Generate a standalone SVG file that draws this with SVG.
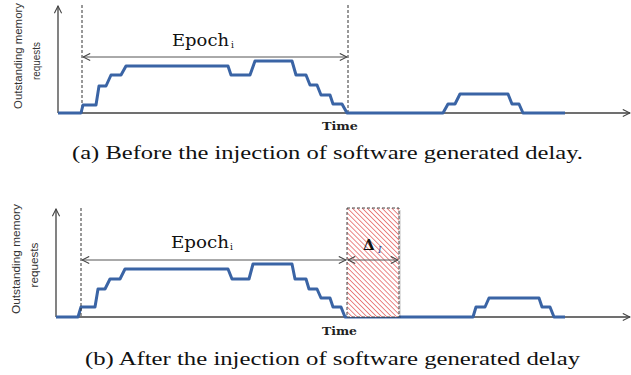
<svg xmlns="http://www.w3.org/2000/svg" width="631" height="375" viewBox="0 0 631 375">
<style>
.axis{stroke:#404040;stroke-width:1.3;fill:none}
.dash{stroke:#333;stroke-width:1;stroke-dasharray:3,2;fill:none}
.span{stroke:#555;stroke-width:1;fill:none}
.curve{stroke:#3a64a5;stroke-width:3;fill:none;stroke-linejoin:round}
.ylab{font-family:"Liberation Sans",Arial,sans-serif;font-size:11px;fill:#333}
.time{font-family:"DejaVu Serif",serif;font-weight:bold;font-size:11px;fill:#222}
.epoch{font-family:"DejaVu Serif",serif;font-size:16px;fill:#111}
.sub{font-family:"DejaVu Serif",serif;font-size:9px;fill:#111}
.cap{font-family:"Liberation Serif","Times New Roman",serif;font-size:18.5px;fill:#111}
</style>
<defs>
<marker id="chev" viewBox="0 0 10 10" refX="9" refY="5" markerWidth="9" markerHeight="9" markerUnits="userSpaceOnUse" orient="auto-start-reverse">
<path d="M1,1 L9,5 L1,9" fill="none" stroke="#444" stroke-width="1.2"/>
</marker>
<pattern id="hatch" patternUnits="userSpaceOnUse" width="3.5" height="3.5" patternTransform="rotate(-45)">
<rect width="3.5" height="3.5" fill="#fff"/>
<line x1="0" y1="0" x2="0" y2="3.5" stroke="#e04848" stroke-width="1.3"/>
</pattern>
</defs>

<g id="panel-a">
<g id="axes-a">
<line class="axis" x1="58" y1="113" x2="58" y2="6" marker-end="url(#chev)"/>
<line class="axis" x1="58" y1="113" x2="630" y2="113" marker-end="url(#chev)"/>
</g>
<g id="ylabel-a">
<text class="ylab" transform="translate(22,56) rotate(-90)" text-anchor="middle" textLength="106" lengthAdjust="spacingAndGlyphs">Outstanding  memory</text>
<text class="ylab" transform="translate(40,61) rotate(-90)" text-anchor="middle" textLength="38" lengthAdjust="spacingAndGlyphs">requests</text>
</g>
<g id="connectors-a">
<line class="dash" x1="82" y1="5" x2="82" y2="113"/>
<line class="dash" x1="348" y1="5" x2="348" y2="113"/>
<line class="span" x1="83" y1="57" x2="347" y2="57" marker-start="url(#chev)" marker-end="url(#chev)"/>
</g>
<g id="epoch-a">
<text class="epoch" x="172" y="46" textLength="57" lengthAdjust="spacingAndGlyphs">Epoch</text>
<text class="sub" x="231" y="48">i</text>
</g>
<path id="curve-a" class="curve" d="M58,113 L81,113 L83,105 L96,105 L99,86 L106,86 L111,75 L121,75 L126,66 L228,66 L231,75 L250,75 L255,61 L292,61 L296,75 L306,75 L310,85 L317,85 L321,95 L330,95 L333,104 L342,104 L347,113 L443,113 L448,104 L455,104 L460,94 L508,94 L512,104 L519,104 L523,113 L565,113"/>
<text id="time-a" class="time" x="322" y="130" textLength="36" lengthAdjust="spacingAndGlyphs">Time</text>
<text id="caption-a" class="cap" x="72" y="159" textLength="511" lengthAdjust="spacingAndGlyphs">(a) Before the injection of software generated delay.</text>
</g>

<g id="panel-b">
<g id="axes-b">
<line class="axis" x1="56" y1="317" x2="56" y2="209" marker-end="url(#chev)"/>
<line class="axis" x1="56" y1="317" x2="630" y2="317" marker-end="url(#chev)"/>
</g>
<g id="ylabel-b">
<text class="ylab" transform="translate(20,259) rotate(-90)" text-anchor="middle" textLength="110" lengthAdjust="spacingAndGlyphs">Outstanding  memory</text>
<text class="ylab" transform="translate(38,265) rotate(-90)" text-anchor="middle" textLength="45" lengthAdjust="spacingAndGlyphs">requests</text>
</g>
<path id="curve-b" class="curve" d="M56,317 L78,317 L81,307 L95,307 L98,289 L105,289 L110,279 L120,279 L125,269 L228,269 L232,279 L249,279 L253,264 L292,264 L295,279 L306,279 L309,289 L317,289 L321,298 L330,298 L333,307 L341,307 L345,317 L473,317 L476,307 L485,307 L489,298 L539,298 L542,307 L550,307 L554,317 L565,317"/>
<g id="delay-box">
<rect x="349" y="210" width="52" height="108" fill="#000" opacity="0.12"/>
<rect x="347" y="208" width="52" height="109" fill="url(#hatch)" stroke="#444" stroke-width="1" stroke-dasharray="3,2"/>
<text x="363" y="250" font-family="DejaVu Serif,serif" font-weight="bold" font-size="15px" fill="#111">Δ</text>
<text x="378" y="253" font-family="DejaVu Serif,serif" font-style="italic" font-size="9px" fill="#2a4a9a">I</text>
</g>
<g id="connectors-b">
<line class="dash" x1="81" y1="208" x2="81" y2="317"/>
<line class="span" x1="82" y1="260" x2="346" y2="260" stroke="#222" marker-start="url(#chev)" marker-end="url(#chev)"/>
<line class="span" x1="348" y1="260" x2="398" y2="260" stroke="#222" marker-start="url(#chev)" marker-end="url(#chev)"/>
</g>
<g id="epoch-b">
<text class="epoch" x="171" y="248" textLength="58" lengthAdjust="spacingAndGlyphs">Epoch</text>
<text class="sub" x="230" y="250">i</text>
</g>
<text id="time-b" class="time" x="322" y="335" textLength="35" lengthAdjust="spacingAndGlyphs">Time</text>
<text id="caption-b" class="cap" x="85" y="365" textLength="495" lengthAdjust="spacingAndGlyphs">(b) After the injection of software generated delay</text>
</g>
</svg>
